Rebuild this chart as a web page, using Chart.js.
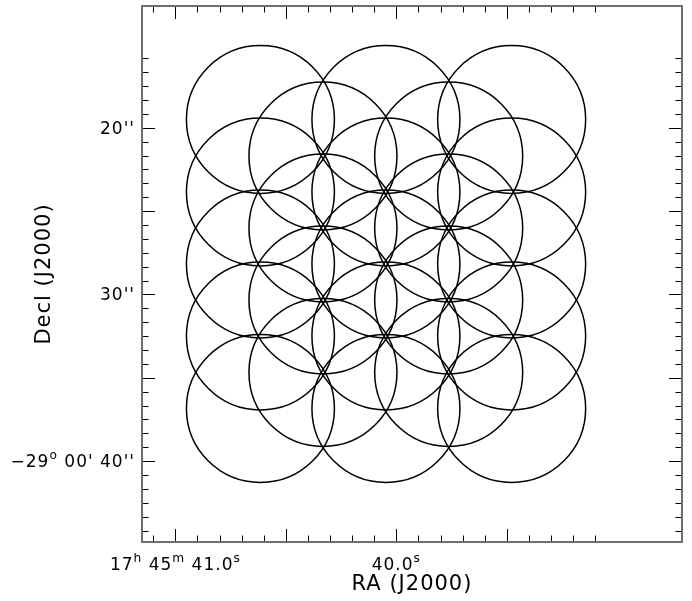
<!DOCTYPE html>
<html>
<head>
<meta charset="utf-8">
<script src="https://cdn.jsdelivr.net/npm/chart.js@4/dist/chart.umd.min.js"></script>
<style>
body { margin: 0; background: #fff; }
#wrap { width: 692px; height: 601px; }
</style>
</head>
<body>
<div id="wrap"><canvas id="myChart" width="692" height="601"></canvas></div>
<script>
// mosaic pointings: RA seconds of 17h45m, Dec arcsec of -29d00'
var pointingRA = [
  40.615, 40.615, 40.615, 40.615, 40.615,
  40.332, 40.332, 40.332, 40.332,
  40.047, 40.047, 40.047, 40.047, 40.047,
  39.763, 39.763, 39.763, 39.763,
  39.478, 39.478, 39.478, 39.478, 39.478
];
var pointingDec = [
  19.51, 23.86, 28.18, 32.50, 36.85,
  21.70, 26.02, 30.34, 34.69,
  19.51, 23.86, 28.18, 32.50, 36.85,
  21.70, 26.02, 30.34, 34.69,
  19.51, 23.86, 28.18, 32.50, 36.85
];
var beamRadius = 4.44; // arcsec

var raRange = [38.707, 41.151];
var decRange = [12.70, 44.86];

// tick marks
var raTicks = [41.1, 41.0, 40.9, 40.8, 40.7, 40.6, 40.5, 40.4, 40.3, 40.2, 40.1,
               40.0, 39.9, 39.8, 39.7, 39.6, 39.5, 39.4, 39.3, 39.2, 39.1];
var raMajor = [41.0, 40.5, 40.0, 39.5];
var decTicks = [15.83, 16.67, 17.5, 18.33, 19.17, 20, 20.83, 21.67, 22.5, 23.33, 24.17,
                25, 25.83, 26.67, 27.5, 28.33, 29.17, 30, 30.83, 31.67, 32.5, 33.33, 34.17,
                35, 35.83, 36.67, 37.5, 38.33, 39.17, 40, 40.83, 41.67, 42.5, 43.33, 44.17];
var decMajor = [20, 25, 30, 35, 40];

// tick labels, [text, superscript?]
var raLabelValues = [41.0, 40.0];
var raLabelText = [
  [["17", 0], ["h", 1], [" 45", 0], ["m", 1], [" 41.0", 0], ["s", 1]],
  [["40.0", 0], ["s", 1]]
];
var decLabelValues = [20, 30, 40];
var decLabelText = [
  [["20''", 0]],
  [["30''", 0]],
  [["\u221229", 0], ["o", 1], [" 00' 40''", 0]]
];
var xTitle = "RA (J2000)";
var yTitle = "Decl (J2000)";

var FONT = '"DejaVu Sans"';

function drawParts(ctx, parts, x, y, align, size) {
  var w = 0;
  parts.forEach(p => {
    ctx.font = (p[1] ? size * 0.72 : size) + 'px ' + FONT;
    w += ctx.measureText(p[0]).width;
  });
  var cx = align === 'center' ? x - w / 2 : (align === 'right' ? x - w : x);
  ctx.textAlign = 'left';
  ctx.textBaseline = 'alphabetic';
  parts.forEach(p => {
    ctx.font = (p[1] ? size * 0.72 : size) + 'px ' + FONT;
    ctx.fillText(p[0], cx, p[1] ? y - size * 0.5 : y);
    cx += ctx.measureText(p[0]).width;
  });
}

const frame = {
  id: 'frame',
  afterDraw(chart) {
    const ctx = chart.ctx, a = chart.chartArea;
    const xs = chart.scales.x, ys = chart.scales.y;
    ctx.save();
    ctx.letterSpacing = '1px';
    ctx.strokeStyle = '#000';
    ctx.lineWidth = 1;
    ctx.beginPath();
    raTicks.forEach(v => {
      const px = Math.round(xs.getPixelForValue(v)) + 0.5;
      const len = raMajor.includes(v) ? 13 : 6.5;
      ctx.moveTo(px, a.bottom); ctx.lineTo(px, a.bottom - len);
      ctx.moveTo(px, a.top); ctx.lineTo(px, a.top + len);
    });
    decTicks.forEach(v => {
      const py = Math.round(ys.getPixelForValue(v)) + 0.5;
      const len = decMajor.includes(v) ? 13 : 6.5;
      ctx.moveTo(a.left, py); ctx.lineTo(a.left + len, py);
      ctx.moveTo(a.right, py); ctx.lineTo(a.right - len, py);
    });
    ctx.stroke();

    ctx.strokeStyle = '#707070';
    ctx.lineWidth = 2;
    ctx.strokeRect(a.left, a.top, a.right - a.left, a.bottom - a.top);

    ctx.fillStyle = '#000';
    raLabelValues.forEach((v, i) => {
      drawParts(ctx, raLabelText[i], xs.getPixelForValue(v), a.bottom + 28, 'center', 17);
    });
    decLabelValues.forEach((v, i) => {
      drawParts(ctx, decLabelText[i], a.left - 7, ys.getPixelForValue(v) + 6, 'right', 17);
    });

    ctx.font = '21px ' + FONT;
    ctx.textAlign = 'center';
    ctx.textBaseline = 'alphabetic';
    ctx.fillText(xTitle, (a.left + a.right) / 2, 590);
    ctx.translate(50, (a.top + a.bottom) / 2);
    ctx.rotate(-Math.PI / 2);
    ctx.fillText(yTitle, 0, 0);
    ctx.restore();
  }
};

const myChart = new Chart(document.getElementById('myChart').getContext('2d'), {
  type: 'scatter',
  data: {
    datasets: [{
      data: pointingRA.map((ra, i) => ({ x: ra, y: pointingDec[i] })),
      pointStyle: 'circle',
      pointRadius: c => {
        const ys = c.chart.scales.y;
        return Math.abs(ys.getPixelForValue(c.raw.y + beamRadius) - ys.getPixelForValue(c.raw.y));
      },
      backgroundColor: 'rgba(0,0,0,0)',
      borderColor: '#000',
      borderWidth: 1.5,
      clip: false
    }]
  },
  options: {
    responsive: false,
    animation: false,
    events: [],
    layout: { padding: { left: 142, right: 10, top: 6, bottom: 59 } },
    scales: {
      x: { type: 'linear', display: false, reverse: true, min: raRange[0], max: raRange[1] },
      y: { type: 'linear', display: false, reverse: true, min: decRange[0], max: decRange[1] }
    },
    plugins: { legend: { display: false }, tooltip: { enabled: false } }
  },
  plugins: [frame]
});
</script>
</body>
</html>
